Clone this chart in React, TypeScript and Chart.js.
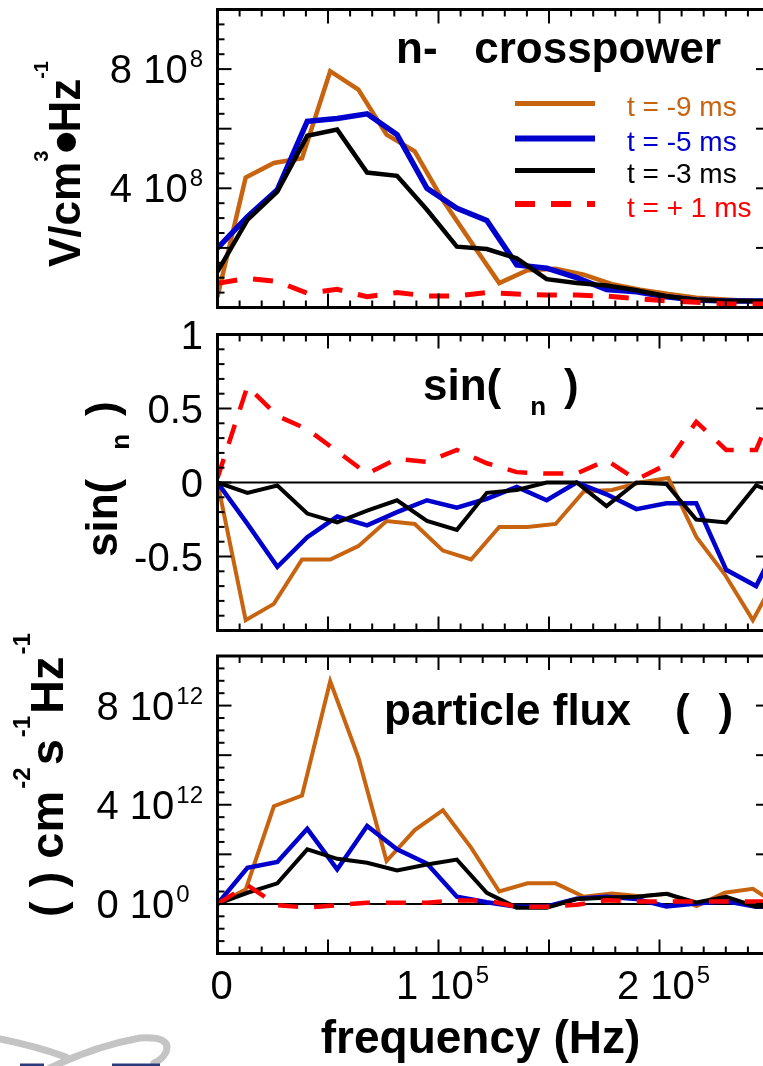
import React, { useEffect, useRef } from "react";
import { Chart, registerables } from "chart.js";

Chart.register(...registerables);

const FONT = "'Liberation Sans', Arial, Helvetica, sans-serif";
const W = 780;
const H = 1066;

// ---- frequency grids (Hz) ----
const freqA = [0, 12750, 25500, 38250, 51000, 63750, 76500, 89250, 102000, 114750, 127500, 140250, 153000, 165750, 178500, 191250, 204000, 216750, 229500, 242250, 255000];
const freqB = [0, 13540, 27080, 40620, 54160, 67700, 81240, 94780, 108320, 121860, 135400, 148940, 162480, 176020, 189560, 203100, 216640, 230180, 243720, 257260];

// ---- series ----
const seriesLabels = ["t = -9 ms", "t = -5 ms", "t = -3 ms", "t = + 1 ms"];
const seriesColors = ["#C8640F", "#0000CD", "#000000", "#FF0000"];

// panel 1 : n- crosspower (V/cm^3 Hz^-1)
const crossOrange = [0.36e8, 4.36e8, 4.85e8, 5.01e8, 7.93e8, 7.31e8, 5.8e8, 5.24e8, 3.6e8, 2.2e8, 0.82e8, 1.25e8, 1.3e8, 1.1e8, 0.78e8, 0.6e8, 0.45e8, 0.33e8, 0.27e8, 0.22e8, 0.2e8];
const crossBlue = [1.99e8, 3.05e8, 3.95e8, 6.25e8, 6.34e8, 6.5e8, 5.8e8, 4.0e8, 3.33e8, 2.92e8, 1.43e8, 1.32e8, 1.0e8, 0.6e8, 0.53e8, 0.36e8, 0.25e8, 0.22e8, 0.22e8, 0.22e8];
const crossBlack = [1.2e8, 2.94e8, 3.89e8, 5.76e8, 5.97e8, 4.53e8, 4.42e8, 3.28e8, 2.04e8, 1.96e8, 1.65e8, 0.95e8, 0.82e8, 0.74e8, 0.58e8, 0.38e8, 0.26e8, 0.22e8, 0.22e8, 0.22e8];
const crossRed = [0.81e8, 0.98e8, 0.87e8, 0.48e8, 0.61e8, 0.36e8, 0.5e8, 0.39e8, 0.39e8, 0.5e8, 0.45e8, 0.42e8, 0.42e8, 0.38e8, 0.3e8, 0.22e8, 0.18e8, 0.12e8, 0.12e8, 0.12e8];

// panel 2 : sin(phase)
const sinOrange = [0, -0.93, -0.82, -0.52, -0.52, -0.43, -0.26, -0.28, -0.46, -0.52, -0.3, -0.3, -0.28, -0.06, -0.05, 0.0, 0.03, -0.37, -0.62, -0.93, -0.58];
const sinBlue = [0, -0.28, -0.57, -0.37, -0.23, -0.29, -0.2, -0.12, -0.17, -0.11, -0.03, -0.12, 0, -0.08, -0.18, -0.14, -0.14, -0.59, -0.7, -0.3];
const sinBlack = [0, -0.07, -0.02, -0.21, -0.27, -0.19, -0.12, -0.26, -0.32, -0.07, -0.05, 0, 0, -0.16, 0, -0.01, -0.25, -0.27, -0.02, -0.1];
const sinRed = [0.03, 0.65, 0.45, 0.36, 0.21, 0.06, 0.16, 0.14, 0.22, 0.13, 0.07, 0.06, 0.06, 0.15, 0.02, 0.12, 0.41, 0.22, 0.22, 0.7];

// panel 3 : particle flux (cm^-2 s^-1 Hz^-1)
const fluxOrange = [0, 0.58e12, 3.94e12, 4.37e12, 8.98e12, 5.9e12, 1.73e12, 2.98e12, 3.78e12, 2.27e12, 0.5e12, 0.83e12, 0.83e12, 0.29e12, 0.42e12, 0.31e12, 0.41e12, -0.09e12, 0.45e12, 0.61e12, -0.12e12];
const fluxBlue = [0, 1.46e12, 1.69e12, 3.03e12, 1.39e12, 3.14e12, 2.2e12, 1.63e12, 0.29e12, 0.07e12, -0.11e12, -0.1e12, 0.21e12, 0.29e12, 0.2e12, -0.1e12, 0.02e12, 0.11e12, -0.11e12, -0.1e12];
const fluxBlack = [0, 0.45e12, 0.83e12, 2.2e12, 1.82e12, 1.66e12, 1.35e12, 1.59e12, 1.79e12, 0.45e12, -0.15e12, -0.15e12, 0.2e12, 0.25e12, 0.29e12, 0.41e12, 0.06e12, 0.29e12, -0.11e12, -0.1e12];
const fluxRed = [0, 0.75e12, -0.05e12, -0.15e12, -0.05e12, 0.05e12, 0.05e12, 0.05e12, 0.14e12, 0.14e12, -0.11e12, -0.11e12, -0.03e12, 0.15e12, 0.1e12, 0.1e12, 0.1e12, 0.1e12, 0.1e12, 0.1e12];

// ---- axes / tick labels ----
const xRange = [0, 2.5e5];
const xTickValues = [0, 1e5, 2e5];
const xTickBases = ["0", "1 10", "2 10"];
const xTickExps = ["", "5", "5"];

const crossTickValues = [4e8, 8e8];
const crossTickBases = ["4 10", "8 10"];
const crossTickExps = ["8", "8"];

const sinTickValues = [1, 0.5, 0, -0.5];
const sinTickBases = ["1", "0.5", "0", "-0.5"];
const sinTickExps = ["", "", "", ""];

const fluxTickValues = [0, 4e12, 8e12];
const fluxTickBases = ["0 10", "4 10", "8 10"];
const fluxTickExps = ["0", "12", "12"];

type Part = { t?: string; kind?: "sup" | "sub"; gap?: number; font?: string; dy?: number };
type Fonts = { base: string; sup?: string; rise?: number; drop?: number };

function partFont(p: Part, f: Fonts) {
  if (p.font) return p.font;
  if (p.kind === "sup" || p.kind === "sub") return f.sup || f.base;
  return f.base;
}

function richWidth(ctx: CanvasRenderingContext2D, parts: Part[], f: Fonts) {
  let w = 0;
  for (const p of parts) {
    if (p.gap) w += p.gap;
    if (p.t) {
      ctx.font = partFont(p, f);
      w += ctx.measureText(p.t).width;
    }
  }
  return w;
}

function drawRich(ctx: CanvasRenderingContext2D, parts: Part[], x: number, y: number, align: "left" | "right" | "center", f: Fonts) {
  const w = richWidth(ctx, parts, f);
  let cx = align === "left" ? x : align === "right" ? x - w : x - w / 2;
  ctx.textAlign = "left";
  ctx.textBaseline = "alphabetic";
  for (const p of parts) {
    if (p.gap) cx += p.gap;
    if (!p.t) continue;
    ctx.font = partFont(p, f);
    const dy = (p.kind === "sup" ? -(f.rise || 0) : p.kind === "sub" ? f.drop || 0 : 0) + (p.dy || 0);
    ctx.fillText(p.t, cx, y + dy);
    cx += ctx.measureText(p.t).width;
  }
}

function drawRotated(ctx: CanvasRenderingContext2D, parts: Part[], x: number, yStart: number, f: Fonts) {
  ctx.save();
  ctx.translate(x, yStart);
  ctx.rotate(-Math.PI / 2);
  drawRich(ctx, parts, 0, 0, "left", f);
  ctx.restore();
}

const TICK_FONTS: Fonts = { base: `40px ${FONT}`, sup: `24px ${FONT}`, rise: 16 };

type PanelCfg = {
  top: number;
  bottom: number;
  yMin: number;
  yMax: number;
  yMajor: number;
  yMinor: number;
  yTickValues: number[];
  yTickBases: string[];
  yTickExps: string[];
  zeroLine: boolean;
  showX: boolean;
  series: { xs: number[]; ys: number[] }[];
  widths: number[];
  decorate: (ctx: CanvasRenderingContext2D, chart: any) => void;
};

function drawTicks(chart: any, cfg: PanelCfg) {
  const { ctx, chartArea: a, scales } = chart;
  const x = scales.x;
  const y = scales.y;
  ctx.save();
  ctx.strokeStyle = "#000";
  ctx.lineWidth = 2;
  ctx.lineCap = "butt";
  const line = (x1: number, y1: number, x2: number, y2: number) => {
    ctx.beginPath();
    ctx.moveTo(x1, y1);
    ctx.lineTo(x2, y2);
    ctx.stroke();
  };
  const xMajor = 5e4;
  const xMinor = 1e4;
  for (let k = Math.ceil(x.min / xMinor - 1e-9); k * xMinor <= x.max + 1e-6; k++) {
    const v = k * xMinor;
    const px = x.getPixelForValue(v);
    const r = v / xMajor;
    const major = Math.abs(r - Math.round(r)) < 1e-6;
    const L = major ? 14 : 7;
    line(px, a.bottom, px, a.bottom - L);
    line(px, a.top, px, a.top + L);
  }
  for (let k = Math.ceil(cfg.yMin / cfg.yMinor - 1e-9); k * cfg.yMinor <= cfg.yMax * (1 + 1e-9) + 1e-12; k++) {
    const v = k * cfg.yMinor;
    const py = y.getPixelForValue(v);
    const r = v / cfg.yMajor;
    const major = Math.abs(r - Math.round(r)) < 1e-6;
    const L = major ? 14 : 7;
    line(a.left, py, a.left + L, py);
    line(a.right, py, a.right - L, py);
  }
  ctx.lineWidth = 3;
  ctx.strokeRect(a.left, a.top, a.right - a.left, a.bottom - a.top);

  ctx.fillStyle = "#000";
  ctx.font = TICK_FONTS.sup as string;
  let maxSup = 0;
  cfg.yTickExps.forEach((e) => {
    if (e) maxSup = Math.max(maxSup, ctx.measureText(e).width + 2);
  });
  const R = a.left - 14.5;
  cfg.yTickValues.forEach((v, i) => {
    const py = y.getPixelForValue(v);
    const parts: Part[] = [{ t: cfg.yTickBases[i] }];
    if (cfg.yTickExps[i]) {
      drawRich(ctx, parts, R - maxSup, py + 14, "right", TICK_FONTS);
      drawRich(ctx, [{ t: cfg.yTickExps[i], kind: "sup" }], R - maxSup + 2, py + 14, "left", TICK_FONTS);
    } else {
      drawRich(ctx, parts, R, py + 14, "right", TICK_FONTS);
    }
  });

  if (cfg.showX) {
    xTickValues.forEach((v, i) => {
      const px = x.getPixelForValue(v);
      const parts: Part[] = [{ t: xTickBases[i] }];
      if (xTickExps[i]) parts.push({ t: xTickExps[i], kind: "sup", gap: 2 });
      drawRich(ctx, parts, px + 4, 999, "center", TICK_FONTS);
    });
  }
  ctx.restore();
}

function makeChart(canvas: HTMLCanvasElement, cfg: PanelCfg) {
  const orders = [4, 3, 2, 1];
  const datasets = cfg.series.map((s, i) => ({
    label: seriesLabels[i],
    data: s.ys.map((v, j) => ({ x: s.xs[j], y: v })),
    borderColor: seriesColors[i],
    backgroundColor: seriesColors[i],
    borderWidth: cfg.widths[i],
    borderDash: i === 3 ? [20, 16] : [],
    borderJoinStyle: "miter" as const,
    borderCapStyle: "butt" as const,
    pointRadius: 0,
    tension: 0,
    fill: false,
    order: orders[i],
  }));
  const plugin = {
    id: "idlFrame",
    beforeDatasetsDraw(chart: any) {
      if (!cfg.zeroLine) return;
      const { ctx, chartArea: a, scales } = chart;
      const py = scales.y.getPixelForValue(0);
      ctx.save();
      ctx.strokeStyle = "#000";
      ctx.lineWidth = 2;
      ctx.beginPath();
      ctx.moveTo(a.left, py);
      ctx.lineTo(a.right, py);
      ctx.stroke();
      ctx.restore();
    },
    afterDraw(chart: any) {
      drawTicks(chart, cfg);
      chart.ctx.save();
      cfg.decorate(chart.ctx, chart);
      chart.ctx.restore();
    },
  };
  return new Chart(canvas, {
    type: "line",
    data: { datasets },
    options: {
      responsive: false,
      animation: false,
      devicePixelRatio: 1,
      events: [],
      layout: { padding: { left: 217.5, right: W - 770, top: cfg.top, bottom: H - cfg.bottom } },
      plugins: { legend: { display: false }, tooltip: { enabled: false }, title: { display: false } },
      scales: {
        x: { type: "linear", min: xRange[0], max: xRange[1], display: false },
        y: { type: "linear", min: cfg.yMin, max: cfg.yMax, display: false },
      },
    },
    plugins: [plugin],
  } as any);
}

const BOLD44 = `bold 44px ${FONT}`;

const panel1: PanelCfg = {
  top: 9.5,
  bottom: 307.5,
  yMin: 0,
  yMax: 1e9,
  yMajor: 2e8,
  yMinor: 5e7,
  yTickValues: crossTickValues,
  yTickBases: crossTickBases,
  yTickExps: crossTickExps,
  zeroLine: false,
  showX: false,
  series: [
    { xs: freqA, ys: crossOrange },
    { xs: freqB, ys: crossBlue },
    { xs: freqB, ys: crossBlack },
    { xs: freqB, ys: crossRed },
  ],
  widths: [4.5, 5.5, 4.5, 5],
  decorate(ctx) {
    ctx.fillStyle = "#000";
    drawRich(ctx, [{ t: "n-   crosspower" }], 396, 63, "left", { base: BOLD44 });
    const ys = [103.5, 138.5, 170.5, 204];
    const widths = [5, 6, 5, 6];
    seriesLabels.forEach((lab, i) => {
      ctx.save();
      ctx.strokeStyle = seriesColors[i];
      ctx.lineWidth = widths[i];
      ctx.setLineDash(i === 3 ? [20, 16] : []);
      ctx.beginPath();
      ctx.moveTo(515, ys[i]);
      ctx.lineTo(595, ys[i]);
      ctx.stroke();
      ctx.restore();
      ctx.fillStyle = seriesColors[i];
      ctx.font = `28px ${FONT}`;
      ctx.textAlign = "left";
      ctx.textBaseline = "alphabetic";
      ctx.fillText(lab, 627, ys[i] + 12.5);
    });
    ctx.fillStyle = "#000";
    drawRotated(
      ctx,
      [
        { t: "V/cm" },
        { t: "3", kind: "sup" },
        { t: "•", font: `bold 66px ${FONT}`, dy: 8, gap: -3 },
        { t: "Hz", gap: -2 },
        { t: "-1", kind: "sup" },
      ],
      80,
      267,
      { base: BOLD44, sup: `bold 20px ${FONT}`, rise: 32 }
    );
  },
};

const panel2: PanelCfg = {
  top: 334.5,
  bottom: 630.5,
  yMin: -1,
  yMax: 1,
  yMajor: 0.5,
  yMinor: 0.1,
  yTickValues: sinTickValues,
  yTickBases: sinTickBases,
  yTickExps: sinTickExps,
  zeroLine: true,
  showX: false,
  series: [
    { xs: freqA, ys: sinOrange },
    { xs: freqB, ys: sinBlue },
    { xs: freqB, ys: sinBlack },
    { xs: freqB, ys: sinRed },
  ],
  widths: [4, 4.5, 4, 4.5],
  decorate(ctx) {
    ctx.fillStyle = "#000";
    const f: Fonts = { base: BOLD44, sup: `bold 26px ${FONT}`, drop: 15 };
    drawRich(ctx, [{ t: "sin(" }, { t: "n", kind: "sub", gap: 29 }, { t: ")", gap: 18 }], 423, 400, "left", f);
    drawRotated(ctx, [{ t: "sin(" }, { t: "n", kind: "sub", gap: 29 }, { t: ")", gap: 18 }], 117, 557, { base: BOLD44, sup: `bold 26px ${FONT}`, drop: 12 });
  },
};

const panel3: PanelCfg = {
  top: 656,
  bottom: 953.5,
  yMin: -2e12,
  yMax: 10e12,
  yMajor: 2e12,
  yMinor: 5e11,
  yTickValues: fluxTickValues,
  yTickBases: fluxTickBases,
  yTickExps: fluxTickExps,
  zeroLine: true,
  showX: true,
  series: [
    { xs: freqA, ys: fluxOrange },
    { xs: freqB, ys: fluxBlue },
    { xs: freqB, ys: fluxBlack },
    { xs: freqB, ys: fluxRed },
  ],
  widths: [4, 4.5, 4, 4.5],
  decorate(ctx) {
    ctx.fillStyle = "#000";
    drawRich(ctx, [{ t: "particle flux" }, { t: "(", gap: 44 }, { t: ")", gap: 29 }], 384, 725, "left", { base: BOLD44 });
    drawRotated(
      ctx,
      [
        { t: "(" },
        { t: ")", gap: 14 },
        { t: " cm" },
        { t: "-2", kind: "sup", gap: 2 },
        { t: "s", gap: 2 },
        { t: "-1", kind: "sup", gap: 2 },
        { t: "Hz", gap: 2 },
        { t: "-1", kind: "sup", gap: 2 },
      ],
      63,
      917,
      { base: `bold 47px ${FONT}`, sup: `bold 24px ${FONT}`, rise: 33 }
    );
    drawRich(ctx, [{ t: "frequency (Hz)" }], 480.5, 1053, "center", { base: `bold 46px ${FONT}` });

    // faint logo fragment at the lower-left corner of the slide
    ctx.save();
    ctx.strokeStyle = "#C4C4C4";
    ctx.lineWidth = 7;
    ctx.lineCap = "round";
    ctx.beginPath();
    ctx.moveTo(0, 1039);
    ctx.quadraticCurveTo(35, 1046, 66, 1057);
    ctx.stroke();
    ctx.beginPath();
    ctx.moveTo(50, 1068);
    ctx.quadraticCurveTo(95, 1046, 140, 1038);
    ctx.quadraticCurveTo(172, 1036, 166, 1052);
    ctx.quadraticCurveTo(162, 1060, 154, 1063);
    ctx.stroke();
    ctx.strokeStyle = "#2A3A7A";
    ctx.lineWidth = 3;
    ctx.lineCap = "butt";
    ctx.beginPath();
    ctx.moveTo(20, 1065);
    ctx.lineTo(44, 1065);
    ctx.moveTo(112, 1065);
    ctx.lineTo(160, 1065);
    ctx.stroke();
    ctx.restore();
  },
};

export default function App() {
  const r1 = useRef<HTMLCanvasElement>(null);
  const r2 = useRef<HTMLCanvasElement>(null);
  const r3 = useRef<HTMLCanvasElement>(null);
  useEffect(() => {
    const charts = [
      makeChart(r1.current as HTMLCanvasElement, panel1),
      makeChart(r2.current as HTMLCanvasElement, panel2),
      makeChart(r3.current as HTMLCanvasElement, panel3),
    ];
    return () => charts.forEach((c) => c.destroy());
  }, []);
  const cs: React.CSSProperties = { position: "absolute", left: 0, top: 0, width: W, height: H };
  return (
    <div style={{ position: "fixed", left: 0, top: 0, width: 763, height: 1066, overflow: "hidden", background: "#fff" }}>
      <canvas ref={r1} width={W} height={H} style={cs} />
      <canvas ref={r2} width={W} height={H} style={cs} />
      <canvas ref={r3} width={W} height={H} style={cs} />
    </div>
  );
}
